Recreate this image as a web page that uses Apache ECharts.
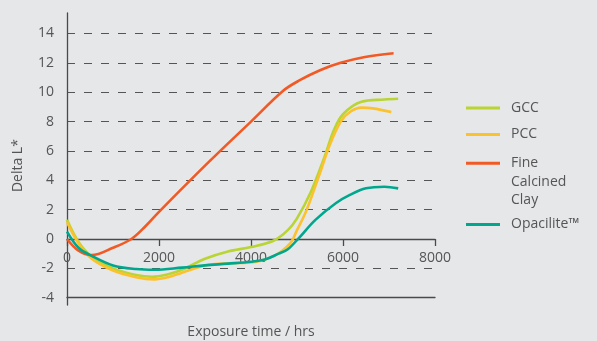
<!DOCTYPE html>
<html>
<head>
<meta charset="utf-8">
<script src="https://cdn.jsdelivr.net/npm/echarts@6/dist/echarts.min.js"></script>
<style>
html,body{margin:0;padding:0;background:#e6e7e9;}
#c{width:597px;height:341px;}
</style>
</head>
<body>
<div id="c"></div>
<script>
// Data (x = exposure hours, y = Delta L*)
const seriesNames = ['GCC', 'PCC', 'Fine Calcined Clay', 'Opacilite™'];
const legendLabels = ['GCC', 'PCC', ' \n \nFine\nCalcined\nClay', 'Opacilite™'];
const gcc = [[0,1.3],[250,-0.2],[537,-1.2],[1000,-2.0],[1500,-2.45],[1850,-2.57],[2200,-2.4],[2500,-2.1],[3000,-1.35],[3500,-0.85],[4000,-0.55],[4500,-0.1],[4800,0.6],[5000,1.4],[5300,3.2],[5600,5.6],[5800,7.4],[6000,8.5],[6400,9.35],[6900,9.5],[7200,9.55]];
const pcc = [[0,1.15],[250,-0.3],[537,-1.35],[1000,-2.15],[1500,-2.6],[1900,-2.75],[2200,-2.6],[2500,-2.3],[3000,-1.8],[3500,-1.65],[4000,-1.6],[4500,-1.15],[4850,-0.3],[5000,0.6],[5200,1.9],[5500,4.5],[5700,6.3],[5950,8.0],[6150,8.65],[6400,8.95],[6650,8.9],[7050,8.65]];
const fcc = [[0,0],[250,-0.8],[537,-1.1],[1000,-0.6],[1400,0],[1700,0.85],[2000,1.85],[3100,5.3],[4000,8.0],[4700,10.1],[5050,10.8],[5500,11.5],[5950,12.0],[6450,12.38],[7100,12.65]];
const opa = [[0,0.5],[250,-0.6],[537,-1.15],[1000,-1.8],[1500,-2.05],[1900,-2.1],[2500,-1.95],[3000,-1.8],[3500,-1.68],[4000,-1.55],[4300,-1.4],[4600,-1.0],[4800,-0.7],[5050,0.1],[5400,1.3],[5850,2.45],[6150,3.0],[6500,3.45],[6900,3.56],[7200,3.45]];
const seriesData = [gcc, pcc, fcc, opa];
const colors = ['#b9d433', '#fcc22d', '#f15a24', '#00a78e'];
const xTicks = {min: 0, max: 8000, interval: 2000};
const yTicks = {min: -4, max: 14, interval: 2};

const txt = '#555555';
const axisCol = '#4a4a4a';
const font = 'Open Sans';
const legendTops = [99, 125.5, 117, 215.5];

const chart = echarts.init(document.getElementById('c'), null, {renderer: 'canvas'});
const legends = seriesNames.map((n, i) => ({
  data: [n],
  left: 466,
  top: legendTops[i],
  padding: 0,
  icon: 'rect',
  itemWidth: 34,
  itemHeight: 3,
  selectedMode: false,
  formatter: () => legendLabels[i],
  textStyle: {
    color: txt, fontFamily: font, fontSize: 14,
    lineHeight: i === 2 ? 18.5 : 18,
    padding: [0, 0, 0, 6]
  }
}));

const plotBox = {left: 67, right: 162, top: 33.5, bottom: 43.3, outerBoundsMode: 'none', containLabel: false};

chart.setOption({
  backgroundColor: '#e6e7e9',
  animation: false,
  textStyle: {fontFamily: font},
  grid: [
    plotBox,
    {left: 67, width: 1, top: 13, bottom: 36, outerBoundsMode: 'none', containLabel: false},
    Object.assign({}, plotBox)
  ],
  legend: legends,
  xAxis: [
    {
      type: 'value', gridIndex: 0,
      min: xTicks.min, max: xTicks.max, interval: xTicks.interval,
      name: 'Exposure time / hrs', nameLocation: 'middle', nameGap: 86,
      nameTextStyle: {color: txt, fontSize: 14, fontFamily: font},
      axisLine: {show: true, onZero: false, lineStyle: {color: axisCol, width: 1.3}},
      axisTick: {show: true, length: 7, lineStyle: {color: axisCol, width: 1.3}},
      axisLabel: {color: txt, fontSize: 14, margin: 12, fontFamily: font, formatter: v => String(v)},
      splitLine: {show: false}
    },
    {type: 'value', gridIndex: 1, show: false, min: 0, max: 1},
    {
      type: 'value', gridIndex: 2, position: 'bottom', min: 0, max: 1,
      axisLine: {show: true, onZero: false, lineStyle: {color: axisCol, width: 1.3}},
      axisTick: {show: false}, axisLabel: {show: false}, splitLine: {show: false}
    }
  ],
  yAxis: [
    {
      type: 'value', gridIndex: 0,
      min: yTicks.min, max: yTicks.max, interval: yTicks.interval,
      name: 'Delta L*', nameLocation: 'middle', nameGap: 42, nameRotate: 90,
      nameTextStyle: {color: txt, fontSize: 14, fontFamily: font},
      axisLine: {show: false},
      axisTick: {show: false},
      axisLabel: {color: txt, fontSize: 14, margin: 13, fontFamily: font},
      splitLine: {show: true, lineStyle: {color: '#555555', width: 1.2, type: [8, 9]}}
    },
    {
      type: 'value', gridIndex: 1, min: 0, max: 1,
      axisLine: {show: true, onZero: false, lineStyle: {color: axisCol, width: 1.3}},
      axisTick: {show: false}, axisLabel: {show: false}, splitLine: {show: false}
    },
    {
      type: 'value', gridIndex: 2, min: 0, max: 1, show: false
    }
  ],
  series: seriesNames.map((n, i) => ({
    name: n, type: 'line', xAxisIndex: 0, yAxisIndex: 0,
    data: seriesData[i], smooth: 0.35, symbol: 'none',
    color: colors[i],
    lineStyle: {color: colors[i], width: 2.6},
    z: i === 3 ? 3 : 2
  }))
});

// Place the x axis on y = 0 using the library's own y scale
const yZero = chart.convertToPixel({yAxisIndex: 0}, 0);
const yBottom = chart.convertToPixel({yAxisIndex: 0}, yTicks.min);
chart.setOption({xAxis: [{offset: yZero - yBottom}]});
</script>
</body>
</html>
